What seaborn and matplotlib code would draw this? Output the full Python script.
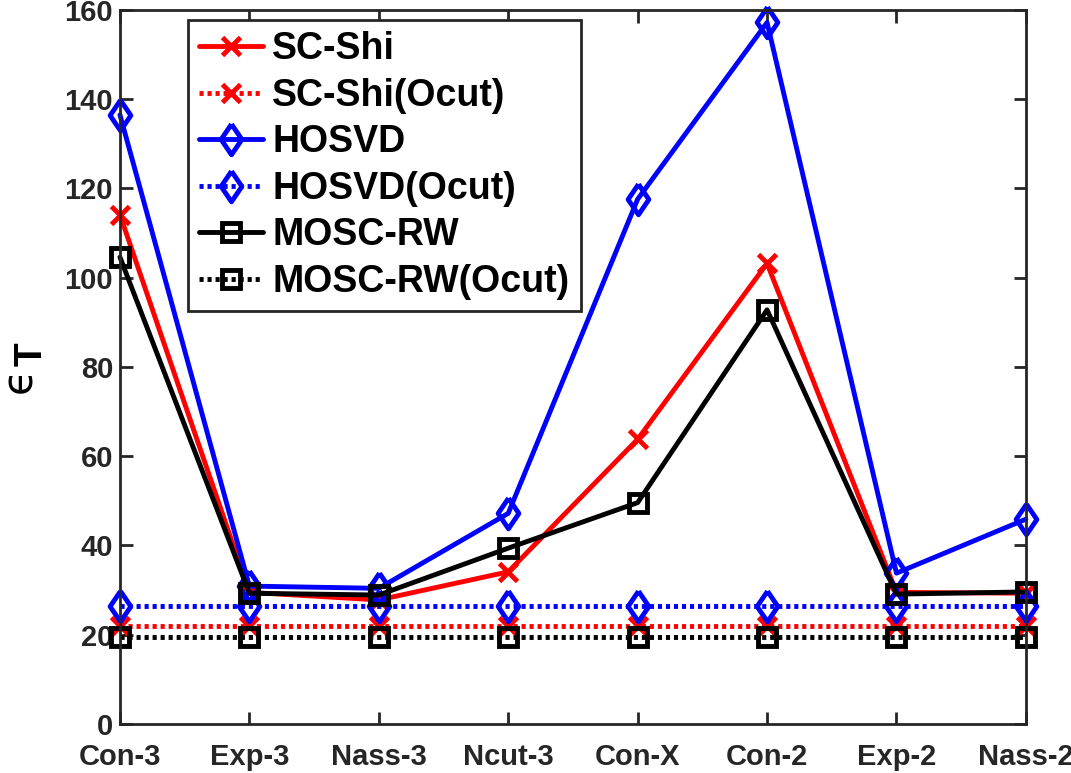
import numpy as np
import pandas as pd
import matplotlib
matplotlib.use("Agg")
import matplotlib.pyplot as plt
import seaborn as sns

# data
datasets = ["Con-3", "Exp-3", "Nass-3", "Ncut-3", "Con-X", "Con-2", "Exp-2", "Nass-2"]
sc_shi = [114.1, 29.5, 27.8, 34.1, 63.8, 103.2, 29.5, 29.3]
sc_shi_ocut = [22.0] * 8
hosvd = [136.5, 30.9, 30.4, 47.2, 117.6, 157.2, 33.8, 45.9]
hosvd_ocut = [26.5] * 8
mosc_rw = [104.6, 29.3, 28.9, 39.4, 49.6, 92.8, 29.1, 29.6]
mosc_rw_ocut = [19.6] * 8

sns.set_theme(style="white")
plt.rcParams["font.family"] = ["Liberation Sans", "DejaVu Sans"]
plt.rcParams["font.weight"] = "bold"

fig = plt.figure(figsize=(10.71, 7.73), dpi=100)
ax = fig.add_axes([0.1120, 0.0634, 0.8459, 0.9237])

x = np.arange(len(datasets))
dot = (0, (0.85, 0.8))
diamond = [(0, 1), (0.68, 0), (0, -1), (-0.68, 0), (0, 1)]  # matlab-like diamond
series = [
    ("SC-Shi", sc_shi, "#ff0000", "-", "x", 13),
    ("SC-Shi(Ocut)", sc_shi_ocut, "#ff0000", dot, "x", 13),
    ("HOSVD", hosvd, "#0000ff", "-", diamond, 22),
    ("HOSVD(Ocut)", hosvd_ocut, "#0000ff", dot, diamond, 22),
    ("MOSC-RW", mosc_rw, "#000000", "-", "s", 13),
    ("MOSC-RW(Ocut)", mosc_rw_ocut, "#000000", dot, "s", 13),
]

for name, vals, col, ls, mk, ms in series:
    df = pd.DataFrame({"x": x, "y": vals})
    sns.lineplot(data=df, x="x", y="y", ax=ax, color=col, linestyle=ls,
                 linewidth=3.5, marker=mk, markersize=ms, markeredgewidth=3.5,
                 markerfacecolor="none", markeredgecolor=col, label=name,
                 clip_on=False)

ax.set_xlim(0, 7)
ax.set_ylim(0, 160)
ax.set_xticks(x)
ax.set_xticklabels(datasets)
ax.set_yticks(np.arange(0, 161, 20))
ax.set_xlabel("")
ax.set_ylabel("")

# y label: epsilon with a bold T subscript
ax.text(-0.111, 0.482, "\u03f5", rotation=90, fontsize=30, fontweight="normal",
        family="DejaVu Sans", color="black", ha="center", va="center",
        transform=ax.transAxes)
ax.text(-0.097, 0.518, "T", rotation=90, fontsize=28, fontweight="bold",
        color="black", ha="center", va="center", transform=ax.transAxes)

for sp in ax.spines.values():
    sp.set_visible(True)
    sp.set_color("#262626")
    sp.set_linewidth(2)
ax.tick_params(direction="in", length=9, width=2, color="#262626",
               labelsize=21, labelcolor="#262626", top=True, right=True,
               bottom=True, left=True)
ax.tick_params(axis="x", pad=14)
ax.tick_params(axis="y", pad=5)
for lab in ax.get_xticklabels() + ax.get_yticklabels():
    lab.set_fontweight("bold")

leg = ax.legend(loc="upper left", bbox_to_anchor=(0.075, 0.986), fontsize=27,
                handlelength=1.7, handletextpad=0.25, labelspacing=0.28,
                borderpad=0.3, borderaxespad=0, frameon=True, fancybox=False,
                framealpha=1, edgecolor="#262626")
leg.get_frame().set_linewidth(2)
for t in leg.get_texts():
    t.set_fontweight("bold")
    t.set_color("black")

fig.savefig("out.png", dpi=100)
